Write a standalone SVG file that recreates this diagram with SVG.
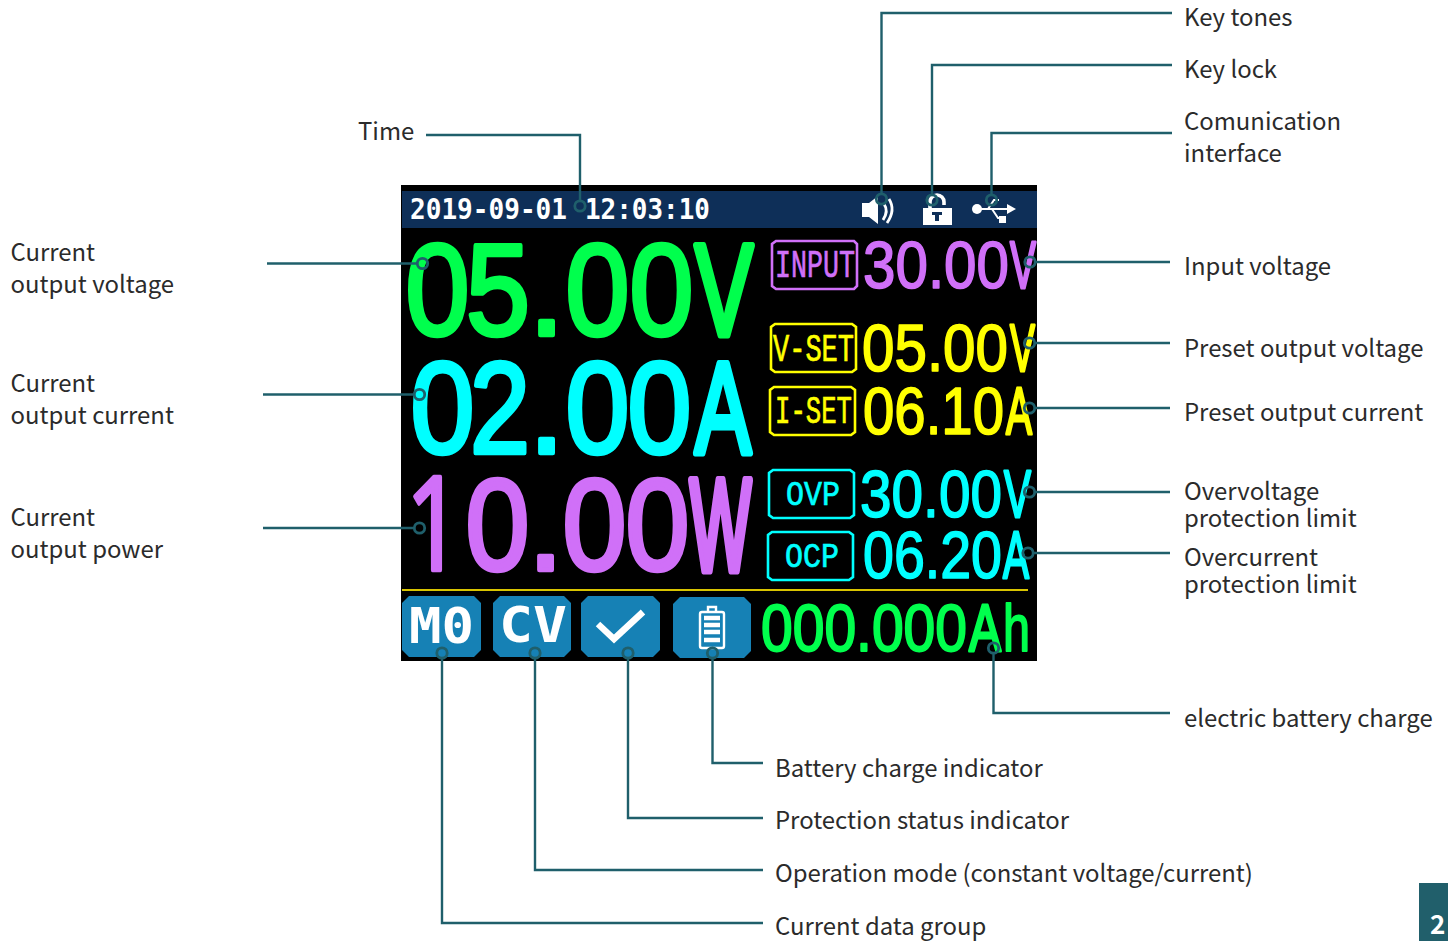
<svg xmlns="http://www.w3.org/2000/svg" width="1448" height="941" viewBox="0 0 1448 941">
<style>
.lb{font-family:"Noto Sans CJK SC","Noto Sans",sans-serif;font-size:23.900px;fill:#2b2b2b}
.big{font-family:"Liberation Sans",sans-serif;font-size:130px;stroke-width:4.500;stroke-linejoin:round}
.sm{font-family:"Liberation Sans",sans-serif;font-size:66px;stroke-width:1.600;stroke-linejoin:round}
.one{font-family:"Open Sans",sans-serif}
.m{font-family:"DejaVu Sans Mono",monospace;font-weight:700}
.t{font-family:"Liberation Mono",monospace;stroke-width:.7}
.c{fill:none;stroke:#1f5f6b;stroke-width:2.4}
.dot{fill:none;stroke:#1f5f6b;stroke-width:2.8}
.box{fill:none;stroke-width:2.6}
.tag{fill:#1681b5}
.w{fill:#fff}
.gr{fill:#00ff4d;stroke:#00ff4d}
.cy{fill:#00ffff;stroke:#00ffff}
.pu{fill:#d070f8;stroke:#d070f8}
.ye{fill:#ffff00;stroke:#ffff00}
.hv{stroke-width:7}
.hs{stroke-width:3}
</style>
<rect width="1448" height="941" fill="#fff"/>
<g id="screen">
<rect x="401" y="185" width="636" height="476" fill="#000"/>
<rect x="402" y="191" width="635" height="37" fill="#0e2f58"/>
<text class="m w" x="410" y="219" font-size="29" textLength="157" lengthAdjust="spacingAndGlyphs">2019-09-01</text>
<text class="m w" x="585" y="219" font-size="29" textLength="125" lengthAdjust="spacingAndGlyphs">12:03:10</text>
<path class="w" d="M862 203h7l9-7v28l-9-7h-7z"/>
<path d="M884 204q5 7-1 16M889 199q7 11-2 24" fill="none" stroke="#fff" stroke-width="2.800"/>
<rect class="w" x="923" y="208" width="29" height="17"/>
<path d="M930 208v-6a7 7 0 0 1 14 0v3" fill="none" stroke="#fff" stroke-width="3.600"/>
<path d="M932 212h10v3h-3v6h-4v-6h-3z" fill="#0e2f58"/>
<circle class="w" cx="977" cy="209" r="5"/>
<path d="M980 209h30M988 209l6-9h5M992 209l6 9h4" fill="none" stroke="#fff" stroke-width="2"/>
<path class="w" d="M1007 204l9 5-9 5z"/>
<rect class="w" x="999" y="216" width="7" height="7"/>
<text class="big gr" y="334.500"><tspan x="405.500" textLength="64" lengthAdjust="spacingAndGlyphs">0</tspan><tspan x="466" textLength="64" lengthAdjust="spacingAndGlyphs">5</tspan><tspan x="528.500">.</tspan><tspan x="565.500" textLength="64" lengthAdjust="spacingAndGlyphs">0</tspan><tspan x="629.500" textLength="64" lengthAdjust="spacingAndGlyphs">0</tspan><tspan class="hv" x="695" textLength="58" lengthAdjust="spacingAndGlyphs">V</tspan></text>
<text class="big cy" y="452.500"><tspan x="410.500" textLength="64" lengthAdjust="spacingAndGlyphs">0</tspan><tspan x="470" textLength="60" lengthAdjust="spacingAndGlyphs">2</tspan><tspan x="528.500">.</tspan><tspan x="565.500" textLength="64" lengthAdjust="spacingAndGlyphs">0</tspan><tspan x="627.500" textLength="64" lengthAdjust="spacingAndGlyphs">0</tspan><tspan class="hv" x="695" textLength="56" lengthAdjust="spacingAndGlyphs">A</tspan></text>
<text class="big pu" y="569.500"><tspan class="one" x="406" textLength="56" lengthAdjust="spacingAndGlyphs">1</tspan><tspan x="465.500" textLength="64" lengthAdjust="spacingAndGlyphs">0</tspan><tspan x="527.500">.</tspan><tspan x="562.500" textLength="64" lengthAdjust="spacingAndGlyphs">0</tspan><tspan x="625.500" textLength="64" lengthAdjust="spacingAndGlyphs">0</tspan><tspan x="690" textLength="61" lengthAdjust="spacingAndGlyphs" style="stroke-width:9">W</tspan></text>
<text class="sm pu" y="287.500"><tspan x="863" textLength="146" lengthAdjust="spacingAndGlyphs">30.00</tspan><tspan class="hs" x="1010" textLength="26" lengthAdjust="spacingAndGlyphs">V</tspan></text>
<text class="sm ye" y="370.500"><tspan x="862" textLength="146" lengthAdjust="spacingAndGlyphs">05.00</tspan><tspan class="hs" x="1010" textLength="25" lengthAdjust="spacingAndGlyphs">V</tspan></text>
<text class="sm ye" y="433.500"><tspan x="863" textLength="141" lengthAdjust="spacingAndGlyphs">06.10</tspan><tspan class="hs" x="1006" textLength="26" lengthAdjust="spacingAndGlyphs">A</tspan></text>
<text class="sm cy" y="516.500"><tspan x="860" textLength="142" lengthAdjust="spacingAndGlyphs">30.00</tspan><tspan class="hs" x="1004" textLength="27" lengthAdjust="spacingAndGlyphs">V</tspan></text>
<text class="sm cy" y="577.500"><tspan x="863" textLength="139" lengthAdjust="spacingAndGlyphs">06.20</tspan><tspan class="hs" x="1003" textLength="26" lengthAdjust="spacingAndGlyphs">A</tspan></text>
<text class="sm gr" y="651" style="stroke-width:2"><tspan x="761" textLength="206" lengthAdjust="spacingAndGlyphs">000.000</tspan><tspan class="hs" x="969" textLength="32" lengthAdjust="spacingAndGlyphs">A</tspan><tspan x="1003" textLength="27" lengthAdjust="spacingAndGlyphs">h</tspan></text>
<path d="M402 590H1028" stroke="#d8c400" stroke-width="1.800"/>
<path class="box" stroke="#d070f8" d="M776 241h78l3 3v42l-3 3h-78l-4-3v-42z"/>
<text class="t pu" x="775" y="277" font-size="38" textLength="80" lengthAdjust="spacingAndGlyphs">INPUT</text>
<path class="box" stroke="#ffff00" d="M775 324h77l4 3v42l-4 3h-77l-4-3v-42z"/>
<text class="t ye" x="773" y="361" font-size="38" textLength="81" lengthAdjust="spacingAndGlyphs">V-SET</text>
<path class="box" stroke="#ffff00" d="M774 387h77l4 3v42l-4 3h-77l-4-3v-42z"/>
<text class="t ye" x="775" y="423" font-size="38" textLength="77" lengthAdjust="spacingAndGlyphs">I-SET</text>
<path class="box" stroke="#00ffff" d="M773 470h77l4 3v42l-4 3h-77l-4-3v-42z"/>
<text class="t cy" x="786" y="505" font-size="35" textLength="54" lengthAdjust="spacingAndGlyphs">OVP</text>
<path class="box" stroke="#00ffff" d="M772 532h77l4 3v42l-4 3h-77l-4-3v-42z"/>
<text class="t cy" x="785" y="567" font-size="35" textLength="54" lengthAdjust="spacingAndGlyphs">OCP</text>
<path class="tag" d="M409 596h65l7 7v47l-7 7h-65l-7-7v-47z"/>
<path class="tag" d="M500 596h64l7 7v47l-7 7h-64l-7-7v-47z"/>
<path class="tag" d="M588 596h65l7 7v47l-7 7h-65l-7-7v-47z"/>
<path class="tag" d="M680 597h64l7 7v47l-7 7h-64l-7-7v-47z"/>
<text class="m w" x="409" y="643" font-size="49" textLength="65" lengthAdjust="spacingAndGlyphs">M0</text>
<text class="m w" x="499" y="642" font-size="49" textLength="68" lengthAdjust="spacingAndGlyphs">CV</text>
<path d="M598 624l16 15 29-27" fill="none" stroke="#fff" stroke-width="6.500"/>
<path d="M708 612v-5h8v5M702 612h20q2 0 2 2v32q0 2-2 2h-20q-2 0-2-2v-32q0-2 2-2z" fill="none" stroke="#fff" stroke-width="2.400"/>
<path d="M704 618h16M704 625h16M704 632h16M704 640h16" stroke="#fff" stroke-width="4.400"/>
</g>
<g id="connectors">
<path class="c" d="M426 135H580V201"/>
<path class="c" d="M1172 13H881.500V194"/>
<path class="c" d="M1172 65H932V195"/>
<path class="c" d="M1172 133H991.500V195"/>
<path class="c" d="M267 263.500H417"/>
<path class="c" d="M263 394.500H414"/>
<path class="c" d="M263 528H414"/>
<path class="c" d="M1035 262H1170"/>
<path class="c" d="M1035 343H1170"/>
<path class="c" d="M1035 408H1170"/>
<path class="c" d="M1035 492H1170"/>
<path class="c" d="M1034 553H1170"/>
<path class="c" d="M993.500 654V713H1170"/>
<path class="c" d="M712.500 659V763H763"/>
<path class="c" d="M628 659V818H763"/>
<path class="c" d="M535 659V870H763"/>
<path class="c" d="M442 659V923H763"/>
<circle class="dot" cx="580" cy="206" r="5.200"/>
<circle class="dot" cx="881.500" cy="199" r="5.200"/>
<circle class="dot" cx="932" cy="200" r="5.200"/>
<circle class="dot" cx="991.500" cy="200" r="5.200"/>
<circle class="dot" cx="422.500" cy="263.500" r="5.200"/>
<circle class="dot" cx="419.500" cy="394.500" r="5.200"/>
<circle class="dot" cx="419.500" cy="528" r="5.200"/>
<circle class="dot" cx="1030" cy="262" r="5.200"/>
<circle class="dot" cx="1029.500" cy="343" r="5.200"/>
<circle class="dot" cx="1029.500" cy="408" r="5.200"/>
<circle class="dot" cx="1029.500" cy="492" r="5.200"/>
<circle class="dot" cx="1028" cy="553" r="5.200"/>
<circle class="dot" cx="993.500" cy="648" r="5.200"/>
<circle class="dot" cx="712.500" cy="653" r="5.200"/>
<circle class="dot" cx="628" cy="653" r="5.200"/>
<circle class="dot" cx="535" cy="653" r="5.200"/>
<circle class="dot" cx="442" cy="653" r="5.200"/>
</g>
<g id="labels">
<text class="lb" x="1184" y="26">Key tones</text>
<text class="lb" x="1184" y="78">Key lock</text>
<text class="lb" x="1184" y="130">Comunication</text>
<text class="lb" x="1184" y="162">interface</text>
<text class="lb" x="358" y="140">Time</text>
<text class="lb" x="10.500" y="261">Current</text>
<text class="lb" x="10.500" y="293">output voltage</text>
<text class="lb" x="10.500" y="392">Current</text>
<text class="lb" x="10.500" y="424">output current</text>
<text class="lb" x="10.500" y="526">Current</text>
<text class="lb" x="10.500" y="558">output power</text>
<text class="lb" x="1184" y="275">Input voltage</text>
<text class="lb" x="1184" y="357">Preset output voltage</text>
<text class="lb" x="1184" y="421">Preset output current</text>
<text class="lb" x="1184" y="500">Overvoltage</text>
<text class="lb" x="1184" y="527">protection limit</text>
<text class="lb" x="1184" y="566">Overcurrent</text>
<text class="lb" x="1184" y="593">protection limit</text>
<text class="lb" x="1184" y="727">electric battery charge</text>
<text class="lb" x="775" y="777">Battery charge indicator</text>
<text class="lb" x="775" y="829">Protection status indicator</text>
<text class="lb" x="775" y="882">Operation mode (constant voltage/current)</text>
<text class="lb" x="775" y="935">Current data group</text>
</g>
<g id="page">
<rect x="1419" y="883" width="29" height="58" fill="#215f6b"/>
<text x="1430" y="934" font-family="Noto Sans CJK SC,Noto Sans,sans-serif" font-weight="700" font-size="26" fill="#fff">2</text>
</g>
</svg>
